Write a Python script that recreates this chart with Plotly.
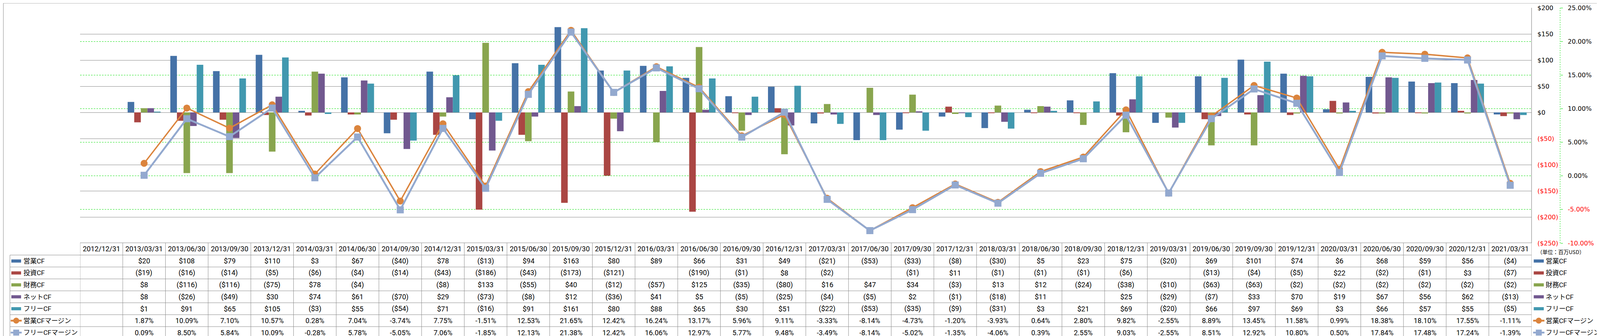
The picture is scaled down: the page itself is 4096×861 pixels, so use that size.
import plotly.graph_objects as go

# ---------------- data ----------------
dates = ["2012/12/31", "2013/03/31", "2013/06/30", "2013/09/30", "2013/12/31",
         "2014/03/31", "2014/06/30", "2014/09/30", "2014/12/31",
         "2015/03/31", "2015/06/30", "2015/09/30", "2015/12/31",
         "2016/03/31", "2016/06/30", "2016/09/30", "2016/12/31",
         "2017/03/31", "2017/06/30", "2017/09/30", "2017/12/31",
         "2018/03/31", "2018/06/30", "2018/09/30", "2018/12/31",
         "2019/03/31", "2019/06/30", "2019/09/30", "2019/12/31",
         "2020/03/31", "2020/06/30", "2020/09/30", "2020/12/31",
         "2021/03/31"]

op_cf = [None, 20, 108, 79, 110, 3, 67, -40, 78, -13, 94, 163, 80, 89, 66, 31, 49,
         -21, -53, -33, -8, -30, 5, 23, 75, -20, 69, 101, 74, 6, 68, 59, 56, -4]
inv_cf = [None, -19, -16, -14, -5, -6, -4, -14, -43, -186, -43, -173, -121, None, -190, -1, 8,
          -2, None, -1, 11, -1, -1, -1, -6, None, -13, -4, -5, 22, -2, -1, 3, -7]
fin_cf = [None, 8, -116, -116, -75, 78, -4, None, -8, 133, -55, 40, -12, -57, 125, -35, -80,
          16, 47, 34, -3, 13, 12, -24, -38, -10, -63, -63, -2, -2, -2, -2, -2, -2]
net_cf = [None, 8, -26, -49, 30, 74, 61, -70, 29, -73, -8, 12, -36, 41, 5, -5, -25,
          -4, -5, 2, -1, -18, 11, None, 25, -29, -7, 33, 70, 19, 67, 56, 62, -13]
free_cf = [None, 1, 91, 65, 105, -3, 55, -54, 71, -16, 91, 161, 80, 88, 65, 30, 51,
           -22, -53, -35, -9, -31, 3, 21, 69, -20, 66, 97, 69, 3, 66, 57, 55, -5]
op_margin = [None, 1.87, 10.09, 7.10, 10.57, 0.28, 7.04, -3.74, 7.75, -1.51, 12.53, 21.65, 12.42,
             16.24, 13.17, 5.96, 9.11, -3.33, -8.14, -4.73, -1.20, -3.93, 0.64, 2.80, 9.82,
             -2.55, 8.89, 13.45, 11.58, 0.99, 18.38, 18.10, 17.55, -1.11]
free_margin = [None, 0.09, 8.50, 5.84, 10.09, -0.28, 5.78, -5.05, 7.06, -1.85, 12.13, 21.38, 12.42,
               16.06, 12.97, 5.77, 9.48, -3.49, -8.14, -5.02, -1.35, -4.06, 0.39, 2.55, 9.03,
               -2.55, 8.51, 12.92, 10.80, 0.50, 17.84, 17.48, 17.24, -1.39]

bar_names = ["営業CF", "投資CF", "財務CF", "ネットCF", "フリーCF"]
line_names = ["営業CFマージン", "フリーCFマージン"]
usd_ticks = [200, 150, 100, 50, 0, -50, -100, -150, -200, -250]
pct_ticks = [25, 20, 15, 10, 5, 0, -5, -10]
unit_label = "（単位：百万USD）"

bar_series = [op_cf, inv_cf, fin_cf, net_cf, free_cf]
line_series = [op_margin, free_margin]
bar_colors = ["#4572A7", "#AA4643", "#89A54E", "#71588F", "#4198AF"]
line_colors = ["#DB843D", "#93A9CF"]

# ---------------- geometry (reference px -> output px) ----------------
W, H = 4096, 861
S = W / 5097.0


def X(p):
    return p * S


L = X(245)
R_EDGE = X(4869)
TOP = X(15.4)
BOT = X(765)
PW = W - L
PH = BOT - TOP


def px_(p):
    return (X(p) - L) / PW


def py_(p):
    return (BOT - X(p)) / PH


XD = (R_EDGE - L) / PW

GRID = "#888888"
GREEN = "#00E000"
RED = "#FF0000"
TFONT = "Roboto, 'Noto Sans CJK JP', sans-serif"
LFONT = "Roboto, 'Noto Sans CJK JP', sans-serif"
AFONT = "DejaVu Sans, Verdana, sans-serif"

fig = go.Figure()

for name, vals, col in zip(bar_names, bar_series, bar_colors):
    fig.add_trace(go.Bar(x=dates, y=vals, name=name, marker=dict(color=col, line=dict(width=0)),
                         yaxis="y"))

fig.add_trace(go.Scatter(x=dates, y=op_margin, name=line_names[0], yaxis="y2", mode="lines+markers",
                         line=dict(color=line_colors[0], width=3.6),
                         marker=dict(symbol="circle", size=18, color=line_colors[0])))
fig.add_trace(go.Scatter(x=dates, y=free_margin, name=line_names[1], yaxis="y2", mode="lines+markers",
                         line=dict(color=line_colors[1], width=4.8),
                         marker=dict(symbol="square", size=18, color=line_colors[1])))


def usd_label(v):
    return "$%d" % v if v >= 0 else '<span style="color:%s">($%d)</span>' % (RED, -v)


def pct_label(v):
    return "%.2f%%" % v if v >= 0 else '<span style="color:%s">%.2f%%</span>' % (RED, v)


shapes = []
annotations = []

# outer chart border
shapes.append(dict(type="rect", xref="paper", yref="paper",
                   x0=(0.5 - L) / PW, x1=(W - 0.5 - L) / PW,
                   y0=(BOT - (H - 0.5)) / PH, y1=(BOT - 0.5) / PH,
                   line=dict(color="#8c8c8c", width=1), fillcolor="rgba(0,0,0,0)", layer="below"))

# plot right border
shapes.append(dict(type="line", xref="paper", yref="paper", x0=XD, x1=XD, y0=0, y1=1,
                   line=dict(color=GRID, width=1.2)))

# secondary axis dotted line
AX2 = px_(4960)
shapes.append(dict(type="line", xref="paper", yref="paper", x0=AX2, x1=AX2, y0=0, y1=1,
                   line=dict(color=GREEN, width=1, dash="dot")))

# ---------------- data table ----------------
HDR_TOP = 764
ROW0 = 803
ROWH = 38
NROWS = 7
TBL_BOT = ROW0 + ROWH * NROWS
TLINE = dict(color="#8a8a8a", width=1)

# horizontal lines
shapes.append(dict(type="line", xref="paper", yref="paper", x0=0, x1=XD,
                   y0=py_(HDR_TOP), y1=py_(HDR_TOP), line=TLINE))
for i in range(NROWS + 1):
    yy = py_(ROW0 + ROWH * i)
    shapes.append(dict(type="line", xref="paper", yref="paper", x0=px_(21.6), x1=XD,
                       y0=yy, y1=yy, line=TLINE))
# vertical lines (category boundaries)
for k in range(len(dates) + 1):
    shapes.append(dict(type="line", xref="x", yref="paper", x0=k - 0.5, x1=k - 0.5,
                       y0=py_(HDR_TOP), y1=py_(TBL_BOT), line=TLINE))
shapes.append(dict(type="line", xref="paper", yref="paper", x0=px_(21.6), x1=px_(21.6),
                   y0=py_(ROW0), y1=py_(TBL_BOT), line=TLINE))


def fmt_usd(v):
    if v is None:
        return ""
    return "$%d" % v if v >= 0 else "($%d)" % (-v)


def fmt_pct(v):
    if v is None:
        return ""
    return "%.2f%%" % v


# header
for d in dates:
    annotations.append(dict(xref="x", yref="paper", x=d, y=py_((HDR_TOP + ROW0) / 2), text=d,
                            showarrow=False, xanchor="center", yanchor="middle",
                            font=dict(family=TFONT, size=18, color="#000000")))

rows = [(fmt_usd, s) for s in bar_series] + [(fmt_pct, s) for s in line_series]
for i, (fn, vals) in enumerate(rows):
    yc = py_(ROW0 + ROWH * i + ROWH / 2)
    for d, v in zip(dates, vals):
        t = fn(v)
        if t:
            annotations.append(dict(xref="x", yref="paper", x=d, y=yc, text=t, showarrow=False,
                                    xanchor="center", yanchor="middle",
                                    font=dict(family=TFONT, size=18, color="#000000")))

# legend keys (left inside table, and right side)
names = bar_names + line_names
all_colors = bar_colors + line_colors
for i, (nm, col) in enumerate(zip(names, all_colors)):
    yc_ref = ROW0 + ROWH * i + ROWH / 2
    for (kx0, kx1, tx) in [(26, 57, 62), (4876, 4908, 4912)]:
        if i < 5:
            shapes.append(dict(type="rect", xref="paper", yref="paper",
                               x0=px_(kx0), x1=px_(kx1), y0=py_(yc_ref + 5), y1=py_(yc_ref - 5),
                               fillcolor=col, line=dict(width=0)))
        else:
            shapes.append(dict(type="line", xref="paper", yref="paper",
                               x0=px_(kx0 - 2), x1=px_(kx1 + 2), y0=py_(yc_ref), y1=py_(yc_ref),
                               line=dict(color=col, width=4.5)))
            cx = (kx0 + kx1) / 2
            r = 9.5
            shapes.append(dict(type="circle" if i == 5 else "rect", xref="paper", yref="paper",
                               x0=px_(cx - r), x1=px_(cx + r), y0=py_(yc_ref + r), y1=py_(yc_ref - r),
                               fillcolor=col, line=dict(width=0)))
        annotations.append(dict(xref="paper", yref="paper", x=px_(tx), y=py_(yc_ref), text=nm,
                                showarrow=False, xanchor="left", yanchor="middle",
                                font=dict(family=LFONT, size=17, color="#000000")))

annotations.append(dict(xref="paper", yref="paper", x=px_(4884), y=py_(792), text=unit_label,
                        showarrow=False, xanchor="left", yanchor="middle",
                        font=dict(family="'Noto Sans CJK JP', sans-serif", size=13.5, color="#000000")))

fig.update_layout(
    width=W, height=H,
    margin=dict(l=L, r=0, t=TOP, b=H - BOT, pad=0),
    paper_bgcolor="white", plot_bgcolor="white",
    showlegend=False, hovermode=False,
    barmode="group", bargap=0.228, bargroupgap=0,
    xaxis=dict(domain=[0, XD], type="category", categoryorder="array", categoryarray=dates,
               range=[-0.5, len(dates) - 0.5], showticklabels=False, showgrid=False,
               zeroline=False, showline=False, ticks="", automargin=False, fixedrange=True),
    yaxis=dict(side="right", anchor="x", range=[-250, 200], tickmode="array",
               tickvals=usd_ticks, ticktext=[usd_label(v) for v in usd_ticks],
               showgrid=True, gridcolor=GRID, gridwidth=1, zeroline=False, showline=False,
               ticks="", ticklabelstandoff=14, automargin=False,
               tickfont=dict(family=AFONT, size=16, color="#000000")),
    yaxis2=dict(overlaying="y", side="right", anchor="free", position=AX2,
                range=[-10, 25], tickmode="array", tickvals=pct_ticks,
                ticktext=[pct_label(v) for v in pct_ticks],
                showgrid=True, gridcolor=GREEN, gridwidth=1, griddash="4px,3px",
                zeroline=False, showline=False, ticks="outside", ticklen=6.5,
                tickcolor=GREEN, tickwidth=1, ticklabelstandoff=9, automargin=False,
                tickfont=dict(family=AFONT, size=16, color="#000000")),
    shapes=shapes,
    annotations=annotations,
)

fig.write_html("out.html")
